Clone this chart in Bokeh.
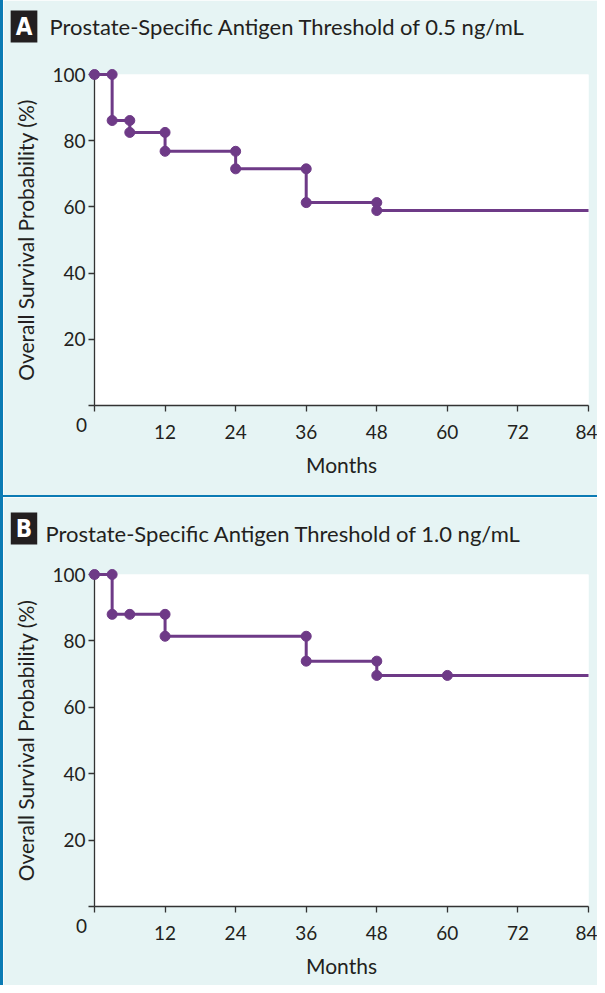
from bokeh.plotting import figure
from bokeh.models import Range1d, Div
from bokeh.layouts import column, row
from bokeh.core.properties import value
from bokeh.embed import file_html
from bokeh.resources import INLINE

# ---- data ----
month_ticks = [0, 12, 24, 36, 48, 60, 72, 84]
surv_ticks = [0, 20, 40, 60, 80, 100]

a_title = "Prostate-Specific Antigen Threshold of 0.5 ng/mL"
a_time = [0, 3, 6, 12, 24, 36, 48, 84]
a_surv = [100, 86.1, 82.5, 76.8, 71.5, 61.3, 58.9, 58.9]
a_mark_time = [0, 3, 3, 6, 6, 12, 12, 24, 24, 36, 36, 48, 48]
a_mark_surv = [100, 100, 86.1, 86.1, 82.5, 82.5, 76.8, 76.8, 71.5, 71.5, 61.3, 61.3, 58.9]

b_title = "Prostate-Specific Antigen Threshold of 1.0 ng/mL"
b_time = [0, 3, 12, 36, 48, 84]
b_surv = [100, 88.0, 81.4, 73.9, 69.6, 69.6]
b_mark_time = [0, 3, 3, 6, 12, 12, 36, 36, 48, 48, 60]
b_mark_surv = [100, 100, 88.0, 88.0, 88.0, 81.4, 81.4, 73.9, 73.9, 69.6, 69.6]

BG = "#e6f4f4"
BLUE = "#0b7bb4"
PURPLE = "#6e3a87"
INK = "#231f20"
FONT = "Lato"


def panel(letter, title, times, surv, mt, ms, height, btop, bbot, title_dy, box_dy, title_dx):
    p = figure(width=594, height=height, x_range=Range1d(0, 84), y_range=Range1d(0, 100),
               output_backend="svg", toolbar_location=None,
               min_border_left=91, min_border_right=9,
               min_border_top=btop, min_border_bottom=bbot,
               background_fill_color="white", border_fill_color=BG,
               outline_line_color=None)
    p.grid.visible = False
    for ax in (p.xaxis[0], p.yaxis[0]):
        ax.axis_line_color = "#333333"
        ax.axis_line_width = 1.3
        ax.major_tick_line_color = "#333333"
        ax.major_tick_line_width = 1.3
        ax.major_tick_in = 0
        ax.major_tick_out = 6
        ax.minor_tick_line_color = None
        ax.major_label_text_font = FONT
        ax.major_label_text_font_size = "19px"
        ax.major_label_text_color = INK
        ax.axis_label_text_font = FONT
        ax.axis_label_text_font_size = "21px"
        ax.axis_label_text_font_style = "normal"
        ax.axis_label_text_color = INK
    p.xaxis.ticker = month_ticks
    p.xaxis.major_label_overrides = {0: ""}
    p.xaxis.major_label_standoff = 13
    p.xaxis.axis_label = "Months"
    p.xaxis.axis_label_standoff = 10
    p.yaxis.ticker = surv_ticks
    p.yaxis.major_label_overrides = {0: ""}
    p.yaxis.major_label_standoff = 3
    p.yaxis.axis_label = "Overall Survival Probability (%)"
    p.yaxis.axis_label_standoff = 11

    p.step(times, surv, mode="after", line_color=PURPLE, line_width=3, level="overlay")
    p.scatter(mt, ms, size=10, fill_color=PURPLE, line_color=PURPLE, level="overlay")

    # corner "0" shared by both axes
    p.text(x=[month_ticks[0]], y=[surv_ticks[0]], text=["0"], x_offset=-13, y_offset=19,
           text_align="center", text_baseline="middle", level="overlay",
           text_font=value(FONT), text_font_size="19px", text_color=INK)
    # panel title
    p.text(x=[month_ticks[0]], y=[surv_ticks[-1]], text=[title], x_offset=title_dx,
           y_offset=-title_dy, text_align="left", text_baseline="alphabetic",
           level="overlay", text_font=value(FONT), text_font_size="22px", text_color=INK)
    # panel letter box
    p.text(x=[month_ticks[0]], y=[surv_ticks[-1]], text=[letter], x_offset=-70.5,
           y_offset=-box_dy, text_align="center", text_baseline="middle", level="overlay",
           text_font=value("DejaVu Sans Condensed"), text_font_style="bold",
           text_font_size="24px", text_color="white",
           background_fill_color=INK, padding=(5, 2))
    return p


pa = panel("A", a_title, a_time, a_surv, a_mark_time, a_mark_surv,
           height=495, btop=74, bbot=90, title_dy=48, box_dy=48, title_dx=-45)
pb = panel("B", b_title, b_time, b_surv, b_mark_time, b_mark_surv,
           height=488, btop=77, bbot=79, title_dy=41, box_dy=46, title_dx=-49)

sep = Div(text="", width=594, height=2, margin=0, styles={"background-color": BLUE})
stripe = Div(text="", width=3, height=985, margin=0, styles={"background-color": BLUE})

layout = row(stripe, column(pa, sep, pb, spacing=0), spacing=0)

open("out.html", "w").write(file_html(layout, INLINE))
